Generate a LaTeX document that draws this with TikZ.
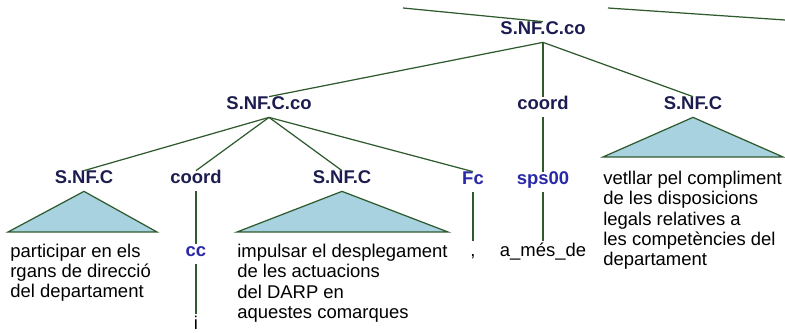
\documentclass[tikz,border=0pt]{standalone}
\usepackage{fontspec}
\setmainfont{Liberation Sans}
\definecolor{catcol}{HTML}{1C1C50}
\definecolor{tagcol}{HTML}{2828A8}
\definecolor{edgecol}{HTML}{2E5A2E}
\definecolor{tricol}{HTML}{A8D2E0}
\tikzset{
	catlab/.style={font=\fontsize{10.5}{12}\selectfont\bfseries, text=catcol, anchor=base, inner xsep=1pt, inner ysep=0pt, text height=7.4pt, text depth=4pt},
	taglab/.style={catlab, text=tagcol},
	wordlab/.style={font=\fontsize{10.5}{11.6}\selectfont, anchor=base, inner xsep=1pt, inner ysep=0pt, text height=8.8pt, text depth=4pt},
	leaftext/.style={font=\fontsize{10.5}{11.6}\selectfont, anchor=base west, align=left, inner sep=0pt},
	branch/.style={draw=edgecol, line width=0.7pt},
	tri/.style={fill=tricol, draw=edgecol, line width=0.7pt}
}
\begin{document}
\begin{tikzpicture}[x=0.02cm, y=-0.02cm]
			\useasboundingbox (0,0) rectangle (785,333);
			% labels of the tree
			\node[catlab] (root) at (543,35) {S.NF.C.co};
			\node[catlab] (coordsub) at (269,110) {S.NF.C.co};
			\node[catlab] (coordB) at (543,110) {coord};
			\node[catlab] (snfC) at (693,110) {S.NF.C};
			\node[catlab] (snfA) at (84,184) {S.NF.C};
			\node[catlab] (coordA) at (196,184) {coord};
			\node[catlab] (snfB) at (342,184) {S.NF.C};
			\node[taglab] (fc) at (473,185) {Fc};
			\node[taglab] (sps) at (543,185) {sps00};
			\node[taglab] (cc) at (196,257) {cc};
			% words (base = last line)
			\node[wordlab] (wi) at (196,330) {i};
			\node[wordlab] (wcomma) at (473,257) {,};
			\node[wordlab] (wames) at (543,257) {a\_més\_de};
			\node[leaftext] (txtA) at (10,298) {participar en els\\rgans de direcció\\del departament};
			\node[leaftext] (txtB) at (237,318.5) {impulsar el desplegament\\de les actuacions\\del DARP en\\aquestes comarques};
			\node[leaftext] (txtC) at (603,266) {vetllar pel compliment\\de les disposicions\\legals relatives a\\les competències del\\departament};
			% cut edges at the top
			\coordinate (upL) at (403,8);
			\coordinate (upR1) at (608,8);
			\coordinate (upR2) at (785,20);
			\draw[branch] (upL) -- (root.north);
			\draw[branch] (upR1) -- (upR2);
			% edges
			\draw[branch] (root.south) -- (coordsub.north);
			\draw[branch] (root.south) -- (coordB.north);
			\draw[branch] (root.south) -- (snfC.north);
			\draw[branch] (coordsub.south) -- (snfA.north);
			\draw[branch] (coordsub.south) -- (coordA.north);
			\draw[branch] (coordsub.south) -- (snfB.north);
			\draw[branch] (coordsub.south) -- (fc.north);
			\draw[branch] (coordB.south) -- (sps.north);
			\draw[branch] (coordA.south) -- (cc.north);
			\draw[branch] (cc.south) -- (wi.north);
			\draw[branch] (fc.south) -- (wcomma.north);
			\draw[branch] (sps.south) -- (wames.north);
			% triangles
			\filldraw[tri] (snfA.south) -- (8,232) -- (157,232) -- cycle;
			\filldraw[tri] (snfB.south) -- (237,232) -- (448,232) -- cycle;
			\filldraw[tri] (snfC.south) -- (603,157) -- (783,157) -- cycle;
		\end{tikzpicture}
\end{document}
